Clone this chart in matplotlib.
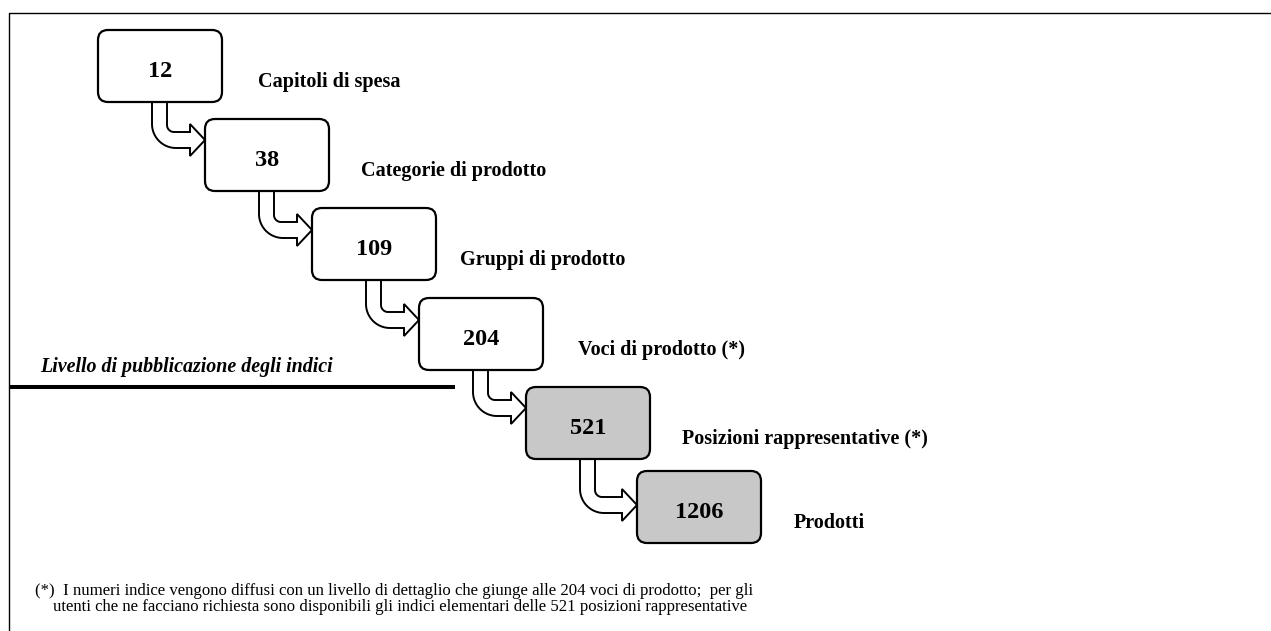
import numpy as np
import matplotlib
matplotlib.use("Agg")
import matplotlib.pyplot as plt
from matplotlib.patches import FancyBboxPatch, Polygon

# ---- data ----
counts = ["12", "38", "109", "204", "521", "1206"]
levels = ["Capitoli di spesa", "Categorie di prodotto", "Gruppi di prodotto",
          "Voci di prodotto (*)", "Posizioni rappresentative (*)", "Prodotti"]
shaded = [False, False, False, False, True, True]
pub_label = "Livello di pubblicazione degli indici"
footnote = ["(*)  I numeri indice vengono diffusi con un livello di dettaglio che giunge alle 204 voci di prodotto;  per gli",
            "utenti che ne facciano richiesta sono disponibili gli indici elementari delle 521 posizioni rappresentative"]

# ---- layout ----
W, H = 1271, 631
SERIF = ["Liberation Serif", "DejaVu Serif"]
fig = plt.figure(figsize=(W / 100, H / 100), dpi=100)
ax = fig.add_axes([0, 0, 1, 1])
ax.set_xlim(0, W)
ax.set_ylim(H, 0)
ax.axis("off")

# frame (top and left visible)
ax.plot([8.5, 8.5, W], [H, 12.5, 12.5], color="black", lw=1.0)

bw, bh = 124, 72
box_left = [98, 205, 312, 419, 526, 637]
box_top = [30, 119, 208, 298, 387, 471]
label_dx = [36, 32, 24, 35, 32, 33]
tip_dy = [21, 22, 22, 21, 34]


def arrow_points(L, B, L2, tip):
    # curved block arrow from bottom of a box to the left side of the next
    xo, xi = L + 54, L + 69
    ro, ri = 24, 7
    cxo, cyo = xo + ro, tip + 8 - ro
    cxi, cyi = xi + ri, tip - 8 - ri
    th = np.linspace(np.pi, np.pi / 2, 24)
    outer = [(cxo + ro * np.cos(t), cyo + ro * np.sin(t)) for t in th]
    inner = [(cxi + ri * np.cos(t), cyi + ri * np.sin(t)) for t in th[::-1]]
    hb = L2 - 15
    pts = [(xo, B)] + outer + [(hb, tip + 8), (hb, tip + 16), (L2, tip),
                                (hb, tip - 16), (hb, tip - 8)] + inner + [(xi, B)]
    return pts


for i, (c, lab, sh) in enumerate(zip(counts, levels, shaded)):
    L = box_left[i]
    T = box_top[i]
    box = FancyBboxPatch((L, T), bw, bh, boxstyle="round,pad=0,rounding_size=10",
                         fc="#c8c8c8" if sh else "white", ec="black", lw=1.6, zorder=3)
    ax.add_patch(box)
    ax.text(L + bw / 2, T + bh / 2 + 11, c, ha="center", va="baseline",
            fontsize=17.5, fontweight="bold", family=SERIF, zorder=4)
    ax.text(L + bw + label_dx[i], T + bh / 2 + 21, lab, ha="left", va="baseline",
            fontsize=14.5, fontweight="bold", family=SERIF)
    if i < len(counts) - 1:
        L2 = box_left[i + 1]
        T2 = box_top[i + 1]
        pts = arrow_points(L, T + bh, L2, T2 + tip_dy[i])
        ax.add_patch(Polygon(pts, closed=False, fc="white", ec="black", lw=1.4,
                             joinstyle="miter", zorder=2))

# publication level line
ax.plot([8.5, 455], [387, 387], color="black", lw=2.9, solid_capstyle="butt")
ax.text(40, 372, pub_label, ha="left", va="baseline", fontsize=14.4,
        fontweight="bold", fontstyle="italic", family=SERIF)

# footnote
ax.text(35, 595, footnote[0], ha="left", va="baseline", fontsize=12.05, family=SERIF)
ax.text(53, 611, footnote[1], ha="left", va="baseline", fontsize=12.05, family=SERIF)

fig.savefig("out.png", dpi=100, facecolor="white")
